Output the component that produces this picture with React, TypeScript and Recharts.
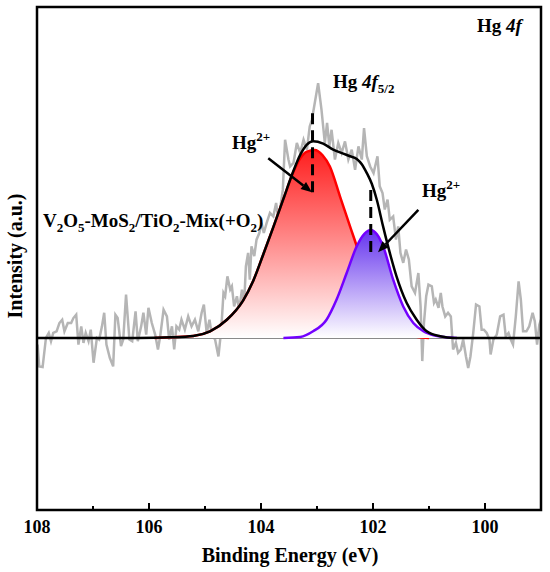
import React from "react";
import {
  ComposedChart,
  Line,
  Area,
  XAxis,
  YAxis,
  ReferenceLine,
  ReferenceArea,
} from "recharts";

const FONT = '"Liberation Serif", "Times New Roman", serif';

// raw spectrum, [binding energy (eV), intensity (a.u.)]
const RAW: [number, number][] = [
  [107.99, -0.02], [107.96, -0.086], [107.9, -0.088], [107.84, 0], [107.79, 0.015],
  [107.75, -0.01], [107.71, 0.015], [107.65, 0.02], [107.6, 0.045], [107.55, 0.055],
  [107.51, 0.02], [107.45, 0.045], [107.39, 0.045], [107.35, 0.06], [107.3, 0.07],
  [107.26, -0.02], [107.21, 0.035], [107.17, -0.015], [107.13, 0.015], [107.08, -0.01],
  [107.04, 0.025], [106.99, -0.075], [106.93, 0], [106.89, -0.005], [106.84, 0.035],
  [106.8, 0.076], [106.76, -0.02], [106.7, -0.06], [106.64, -0.086], [106.6, 0.07],
  [106.56, 0.06], [106.5, -0.025], [106.46, -0.005], [106.41, 0.131], [106.35, -0.005],
  [106.3, -0.01], [106.24, 0.08], [106.2, -0.01], [106.14, 0.035], [106.1, 0.076],
  [106.05, 0.01], [106.01, 0.091], [105.95, 0.045], [105.89, 0.01], [105.84, -0.035],
  [105.8, 0.005], [105.74, 0.085], [105.68, 0.065], [105.64, -0.005], [105.59, 0.035],
  [105.55, -0.035], [105.51, 0.035], [105.46, 0.025], [105.42, 0.055], [105.36, 0.025],
  [105.3, 0.065], [105.24, 0.035], [105.18, 0.055], [105.12, 0.02], [105.06, 0.076],
  [105.02, 0.101], [104.97, 0.015], [104.92, 0.055], [104.88, 0.01], [104.82, -0.005],
  [104.76, -0.056], [104.71, 0.025], [104.67, 0.136], [104.64, 0.126], [104.6, 0.186],
  [104.55, 0.146], [104.52, 0.156], [104.48, 0.095], [104.43, 0.126], [104.39, 0.085],
  [104.34, 0.146], [104.3, 0.106], [104.27, 0.216], [104.23, 0.257], [104.2, 0.176],
  [104.17, 0.277], [104.12, 0.247], [104.08, 0.297], [104.03, 0.317], [103.99, 0.347],
  [103.95, 0.317], [103.9, 0.347], [103.84, 0.378], [103.78, 0.367], [103.73, 0.408],
  [103.69, 0.357], [103.66, 0.388], [103.61, 0.448], [103.57, 0.599], [103.51, 0.539],
  [103.48, 0.518], [103.42, 0.529], [103.36, 0.589], [103.3, 0.559], [103.24, 0.599],
  [103.18, 0.569], [103.13, 0.639], [103.09, 0.66], [103.04, 0.71], [102.98, 0.77],
  [102.92, 0.69], [102.86, 0.589], [102.82, 0.65], [102.78, 0.579], [102.74, 0.629],
  [102.68, 0.539], [102.62, 0.589], [102.56, 0.559], [102.5, 0.594], [102.44, 0.539],
  [102.38, 0.569], [102.32, 0.508], [102.26, 0.579], [102.2, 0.539], [102.16, 0.634],
  [102.11, 0.549], [102.05, 0.518], [101.99, 0.498], [101.92, 0.549], [101.88, 0.458],
  [101.83, 0.438], [101.79, 0.388], [101.74, 0.418], [101.7, 0.357], [101.64, 0.367],
  [101.59, 0.297], [101.55, 0.337], [101.51, 0.257], [101.46, 0.227], [101.41, 0.267],
  [101.36, 0.237], [101.31, 0.156], [101.25, 0.136], [101.19, 0.196], [101.15, 0.095],
  [101.12, -0.07], [101.09, 0.045], [101.05, 0.126], [101.01, 0.161], [100.95, 0.156],
  [100.91, 0.106], [100.88, 0.116], [100.83, 0.091], [100.79, 0.136], [100.76, 0.095],
  [100.71, 0.065], [100.66, 0.076], [100.61, 0.065], [100.57, -0.035], [100.52, -0.015],
  [100.48, -0.045], [100.43, -0.035], [100.39, -0.005], [100.34, -0.056], [100.3, -0.091],
  [100.26, -0.056], [100.21, 0.015], [100.16, 0.101], [100.1, 0.095], [100.06, 0.025],
  [100.02, 0.025], [99.97, 0.015], [99.92, -0.005], [99.9, -0.05], [99.85, -0.005],
  [99.79, 0.01], [99.73, 0.065], [99.67, 0.07], [99.63, 0.005], [99.58, 0.015],
  [99.54, -0.005], [99.5, -0.02], [99.45, 0.065], [99.4, 0.171], [99.36, 0.116],
  [99.32, 0.02], [99.26, 0.02], [99.21, 0.035], [99.15, 0.076], [99.11, 0.05],
  [99.07, -0.02], [99.03, 0.04], [99.0, 0.055],
];

// fitted envelope
const ENVELOPE: [number, number][] = [
  [108, 0], [106.2, 0], [105.6, 0.002], [105.21, 0.006], [104.91, 0.02], [104.61, 0.055],
  [104.32, 0.113], [104.14, 0.172], [103.96, 0.252], [103.78, 0.335], [103.6, 0.42],
  [103.42, 0.505], [103.3, 0.553], [103.18, 0.584], [103.07, 0.594], [102.89, 0.587],
  [102.71, 0.569], [102.53, 0.557], [102.41, 0.549], [102.29, 0.541], [102.2, 0.525],
  [102.11, 0.498], [102.02, 0.465], [101.93, 0.416], [101.82, 0.337], [101.7, 0.257],
  [101.58, 0.186], [101.4, 0.106], [101.22, 0.055], [101.04, 0.02], [100.8, 0.005],
  [100.55, 0], [99, 0],
];

// Hg2+ component, higher binding energy (red)
const PEAK_A: [number, number][] = [
  [105.9, 0], [105.6, 0.002], [105.21, 0.006], [104.91, 0.02], [104.61, 0.055],
  [104.32, 0.113], [104.14, 0.172], [103.96, 0.252], [103.78, 0.335], [103.6, 0.42],
  [103.42, 0.502], [103.3, 0.543], [103.18, 0.563], [103.04, 0.568], [102.9, 0.552],
  [102.77, 0.518], [102.59, 0.428], [102.41, 0.337], [102.29, 0.277], [102.15, 0.2],
  [102.0, 0.13], [101.85, 0.075], [101.7, 0.042], [101.55, 0.022], [101.4, 0.01],
  [101.2, 0.003], [101.0, 0],
];

// Hg2+ component, lower binding energy (violet)
const PEAK_B: [number, number][] = [
  [103.6, 0], [103.3, 0.003], [103.07, 0.02], [102.83, 0.055], [102.65, 0.116],
  [102.47, 0.196], [102.29, 0.277], [102.15, 0.315], [102.04, 0.326], [101.93, 0.313],
  [101.82, 0.277], [101.64, 0.176], [101.46, 0.095], [101.28, 0.045], [101.1, 0.02],
  [100.9, 0.007], [100.7, 0.002], [100.5, 0],
];

const BACKGROUND: [number, number][] = [[108, 0], [99, 0]];

const X_TICKS = [100, 101, 102, 103, 104, 105, 106, 107, 108];

const rows = (pts: [number, number][]) => pts.map(([e, v]) => ({ e, v }));

const XTick = ({ x, y, payload }: any) => {
  const major = payload.value % 2 === 0;
  return (
    <g>
      <line x1={x} x2={x} y1={y} y2={y - (major ? 7 : 4)} stroke="#000" strokeWidth={2} />
      {major && (
        <text x={x} y={y + 23} textAnchor="middle" fontFamily={FONT} fontWeight="bold" fontSize={18} fill="#000">
          {payload.value}
        </text>
      )}
    </g>
  );
};

const Arrow = (p: any) => {
  const { x1, y1, x2, y2 } = p;
  const a = Math.atan2(y2 - y1, x2 - x1);
  const len = 11;
  const half = 4.5;
  const bx = x2 - len * Math.cos(a);
  const by = y2 - len * Math.sin(a);
  const pts = [
    [x2, y2],
    [bx - half * Math.sin(a), by + half * Math.cos(a)],
    [bx + half * Math.sin(a), by - half * Math.cos(a)],
  ]
    .map((q) => q.join(","))
    .join(" ");
  return (
    <g>
      <line x1={x1} y1={y1} x2={bx} y2={by} stroke="#000" strokeWidth={2.5} />
      <polygon points={pts} fill="#000" />
    </g>
  );
};

const txt = { fontFamily: FONT, fontWeight: "bold" as const, fill: "#000" };

export default function App() {
  return (
    <div style={{ position: "absolute", left: 0, top: 0, width: 550, height: 572, background: "#fff" }}>
      <ComposedChart width={550} height={572} margin={{ top: 7, right: 9, bottom: 0, left: 37 }}>
        <defs>
          <linearGradient id="redFill" x1="0" y1="0" x2="0" y2="1">
            <stop offset="0%" stopColor="#ff1e1e" />
            <stop offset="100%" stopColor="#ffffff" />
          </linearGradient>
          <linearGradient id="violetFill" x1="0" y1="0" x2="0" y2="1">
            <stop offset="0%" stopColor="#6533ee" />
            <stop offset="100%" stopColor="#ffffff" />
          </linearGradient>
        </defs>
        <XAxis
          dataKey="e"
          type="number"
          domain={[99, 108]}
          reversed
          allowDataOverflow
          ticks={X_TICKS}
          interval={0}
          tick={(props: any) => <XTick {...props} />}
          tickSize={0}
          tickMargin={0}
          tickLine={false}
          axisLine={false}
          height={62}
        />
        <YAxis type="number" domain={[-0.52, 1]} allowDataOverflow hide />

        <Line data={rows(RAW)} dataKey="v" type="linear" stroke="#b5b5b5" strokeWidth={2.5}
          dot={false} activeDot={false} isAnimationActive={false} zIndex={50} />
        <Line data={rows(BACKGROUND)} dataKey="v" type="linear" stroke="#8a8a8a" strokeWidth={2}
          dot={false} activeDot={false} isAnimationActive={false} zIndex={60} />
        <Area data={rows(PEAK_A)} dataKey="v" type="monotone" baseValue={0} stroke="#ff0000"
          strokeWidth={2.5} fill="url(#redFill)" fillOpacity={1} dot={false} activeDot={false}
          isAnimationActive={false} zIndex={100} />
        <Area data={rows(PEAK_B)} dataKey="v" type="monotone" baseValue={0} stroke="#7300ff"
          strokeWidth={2.5} fill="url(#violetFill)" fillOpacity={1} dot={false} activeDot={false}
          isAnimationActive={false} zIndex={110} />
        <Line data={rows(ENVELOPE)} dataKey="v" type="monotone" stroke="#000" strokeWidth={2.5}
          dot={false} activeDot={false} isAnimationActive={false} zIndex={400} />

        <ReferenceLine segment={[{ x: 103.08, y: 0.679 }, { x: 103.08, y: 0.425 }]}
          stroke="#000" strokeWidth={3} strokeDasharray="11 6" zIndex={450} />
        <ReferenceLine segment={[{ x: 102.04, y: 0.447 }, { x: 102.04, y: 0.26 }]}
          stroke="#000" strokeWidth={3} strokeDasharray="11 6" zIndex={450} />
        <ReferenceLine segment={[{ x: 103.87, y: 0.543 }, { x: 103.09, y: 0.44 }]}
          shape={Arrow} zIndex={460} />
        <ReferenceLine segment={[{ x: 101.19, y: 0.387 }, { x: 101.91, y: 0.259 }]}
          shape={Arrow} zIndex={460} />

        <ReferenceArea x1={108} x2={99} y1={-0.52} y2={1} fill="none" stroke="#000"
          strokeWidth={2.5} zIndex={600} />
      </ComposedChart>

      <svg width={550} height={572} style={{ position: "absolute", left: 0, top: 0, pointerEvents: "none" }}>
        <text x={477} y={32} fontSize={19} {...txt}>
          Hg <tspan fontStyle="italic">4f</tspan>
        </text>
        <text x={333} y={88} fontSize={19} {...txt}>
          Hg <tspan fontStyle="italic">4f</tspan>
          <tspan fontSize={13} dy={5}>5/2</tspan>
        </text>
        <text x={232} y={149} fontSize={19} {...txt}>
          Hg<tspan fontSize={13} dy={-8}>2+</tspan>
        </text>
        <text x={422} y={197} fontSize={19} {...txt}>
          Hg<tspan fontSize={13} dy={-8}>2+</tspan>
        </text>
        <text x={43} y={227} fontSize={19} {...txt}>
          V<tspan fontSize={13} dy={5}>2</tspan>
          <tspan dy={-5}>O</tspan><tspan fontSize={13} dy={5}>5</tspan>
          <tspan dy={-5}>-MoS</tspan><tspan fontSize={13} dy={5}>2</tspan>
          <tspan dy={-5}>/TiO</tspan><tspan fontSize={13} dy={5}>2</tspan>
          <tspan dy={-5}>-Mix(+O</tspan><tspan fontSize={13} dy={5}>2</tspan>
          <tspan dy={-5}>)</tspan>
        </text>
        <text x={22} y={256} fontSize={20} textAnchor="middle" transform="rotate(-90 22 256)" {...txt}>
          Intensity (a.u.)
        </text>
        <text x={290} y={562} fontSize={20} textAnchor="middle" {...txt}>
          Binding Energy (eV)
        </text>
      </svg>
    </div>
  );
}
